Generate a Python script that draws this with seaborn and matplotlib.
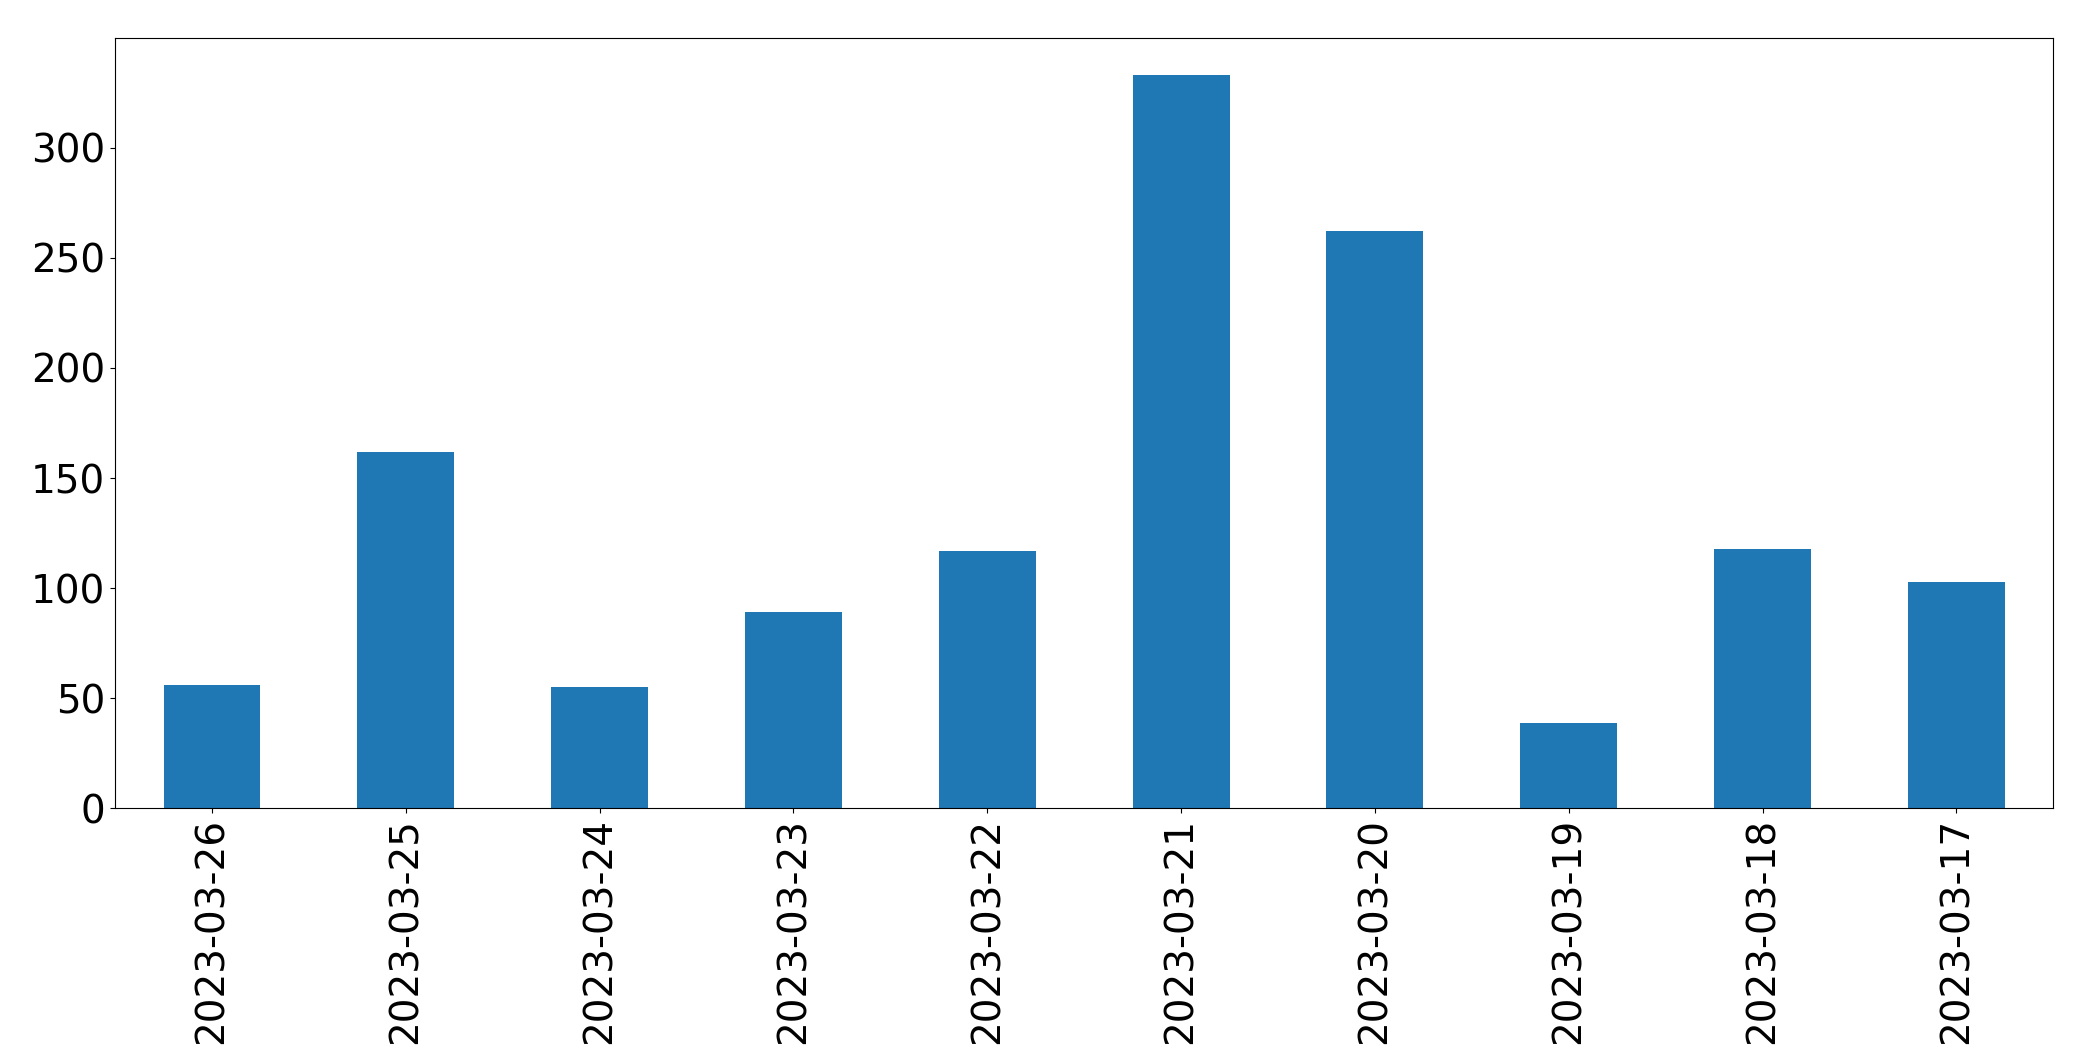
import pandas as pd
import matplotlib
matplotlib.use("Agg")
import matplotlib.pyplot as plt
import seaborn as sns

dates = ["2023-03-26", "2023-03-25", "2023-03-24", "2023-03-23", "2023-03-22",
         "2023-03-21", "2023-03-20", "2023-03-19", "2023-03-18", "2023-03-17"]
counts = [56, 162, 55, 89, 117, 333, 262, 39, 118, 103]

df = pd.DataFrame({"date": dates, "count": counts})

fig, ax = plt.subplots(figsize=(20.93, 10.61), dpi=100)
fig.subplots_adjust(left=0.055, right=0.981, top=0.964, bottom=0.238)
sns.barplot(data=df, x="date", y="count", color="#1f77b4", saturation=1, width=0.5, ax=ax)
ax.set_xlabel("")
ax.set_ylabel("")
ax.set_xlim(-0.5, len(dates) - 0.5)
ax.tick_params(axis="both", labelsize=28)
plt.setp(ax.get_xticklabels(), rotation=90)
fig.savefig("out.png", dpi=100)
